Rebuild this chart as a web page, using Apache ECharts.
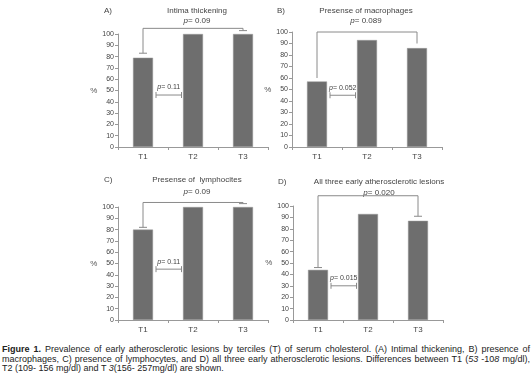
<!DOCTYPE html>
<html>
<head>
<meta charset="utf-8">
<script src="https://cdn.jsdelivr.net/npm/echarts@6/dist/echarts.min.js"></script>
<style>
html,body{margin:0;padding:0;background:#fff;}
#chart{width:532px;height:340px;}
.caption{
  position:absolute;left:2px;top:345px;width:528px;
  font-family:"Liberation Sans",Arial,sans-serif;font-size:9px;line-height:9.5px;
  color:#222;text-align:justify;
}
.caption b{font-weight:bold;}
</style>
</head>
<body>
<div id="chart"></div>
<div class="caption"><b>Figure 1.</b> Prevalence of early atherosclerotic lesions by terciles (T) of serum cholesterol. (A) Intimal thickening, B) presence of macrophages, C) presence of lymphocytes, and D) all three early atherosclerotic lesions. Differences between T1 (<i>53</i> -10<i>8</i> mg/dl), T2 (109- 156 mg/dl) and T <i>3</i>(156- 257mg/dl) are shown.</div>
<script>
// data
const categories = ['T1', 'T2', 'T3']
const panelLetters = ['A)', 'B)', 'C)', 'D)']
const panelTitles = ['Intima thickening', 'Presense of macrophages', 'Presense of  lymphocites', 'All three early atherosclerotic lesions']
const intima = [79, 100, 100]
const macrophages = [57, 93, 86]
const lymphocites = [80, 100, 100]
const allThree = [44, 93, 87]
const pOverall = ['0.09', '0.089', '0.09', '0.020']
const pT1T2 = ['0.11', '0.052', '0.11', '0.015']
// T1 vs T3 bracket: [top level, left end, right end]
const bracketT1T3 = [[105, 83, 103], [100, 60, 90], [104, 82, 103], [109, 46, 91]]
// T1 vs T2 bracket level
const bracketT1T2 = [46, 45, 45, 30]
const yTicks = [0, 100, 10]

const panels = [intima, macrophages, lymphocites, allThree]
const hasCaps = [true, false, true, true]

// layout
const grids = [
  { left: 118, top: 34, width: 150, height: 113 },
  { left: 292, top: 32, width: 150, height: 115 },
  { left: 118, top: 207, width: 150, height: 113 },
  { left: 293, top: 206, width: 150, height: 114 }
]
const titlePos = [
  { letter: [104, 7], title: [197, 7], p: [197, 17] },
  { letter: [277, 7], title: [366, 7], p: [366, 17] },
  { letter: [104, 176], title: [197, 176], p: [197, 188] },
  { letter: [278, 178], title: [379, 178], p: [379, 189] }
]

const font = '"Liberation Sans", Arial, sans-serif'
const grey = '#6e6e6e'
const lineGrey = '#8a8a8a'

let myChart = echarts.init(document.getElementById('chart'))

function seg(x1, y1, x2, y2) {
  return { type: 'line', shape: { x1: x1, y1: y1, x2: x2, y2: y2 }, style: { stroke: lineGrey, lineWidth: 1 } }
}

let xAxes = [], yAxes = [], series = [], graphics = []
grids.forEach((g, i) => {
  xAxes.push({
    gridIndex: i,
    type: 'category',
    data: categories,
    axisLine: { lineStyle: { color: '#999', width: 1 } },
    axisTick: { show: true, length: 3, lineStyle: { color: '#999' } },
    axisLabel: { color: '#444', fontSize: 8, fontFamily: font, margin: 6 }
  })
  yAxes.push({
    gridIndex: i,
    type: 'value',
    min: yTicks[0], max: yTicks[1], interval: yTicks[2],
    name: '%', nameLocation: 'middle', nameGap: 16, nameRotate: 0,
    nameTextStyle: { color: '#555', fontSize: 8, fontFamily: font },
    splitLine: { show: false },
    axisLine: { show: true, lineStyle: { color: '#999' } },
    axisTick: { show: true, length: 3, lineStyle: { color: '#999' } },
    axisLabel: { color: '#444', fontSize: 7, fontFamily: font, margin: 4 }
  })
  series.push({
    type: 'bar',
    xAxisIndex: i, yAxisIndex: i,
    data: panels[i],
    barWidth: 20,
    z: 2,
    itemStyle: { color: grey, borderColor: '#9a9a9a', borderWidth: 0.5 },
    silent: true
  })
  // T1 vs T3 bracket
  series.push({
    type: 'custom',
    xAxisIndex: i, yAxisIndex: i,
    clip: false, silent: true, z: 3,
    data: [[0, 2].concat(bracketT1T3[i])],
    renderItem: (params, api) => {
      let top = api.value(2), yl = api.value(3), yr = api.value(4)
      let a = api.coord([api.value(0), top])
      let b = api.coord([api.value(1), top])
      let la = api.coord([api.value(0), yl])
      let rb = api.coord([api.value(1), yr])
      let children = [{
        type: 'polyline',
        shape: { points: [la, a, b, rb] },
        style: { stroke: lineGrey, lineWidth: 1, fill: null }
      }]
      if (hasCaps[i]) {
        children.push(seg(la[0] - 4, la[1], la[0] + 4, la[1]))
        children.push(seg(rb[0] - 4, rb[1], rb[0] + 4, rb[1]))
      }
      return { type: 'group', children: children }
    }
  })
  // T1 vs T2 bracket, drawn in the gap between the two bars
  series.push({
    type: 'custom',
    xAxisIndex: i, yAxisIndex: i,
    clip: false, silent: true, z: 3,
    data: [[0, 1, bracketT1T2[i]]],
    renderItem: (params, api) => {
      let c1 = api.coord([api.value(0), api.value(2)])
      let c2 = api.coord([api.value(1), api.value(2)])
      let band = c2[0] - c1[0]
      let x1 = c1[0] + band * 0.26
      let x2 = c1[0] + band * 0.77
      let y = c1[1]
      return {
        type: 'group',
        children: [
          seg(x1, y, x2, y),
          seg(x1, y - 3, x1, y + 3),
          seg(x2, y - 3, x2, y + 3),
          {
            type: 'text',
            x: (x1 + x2) / 2, y: y - 4,
            style: {
              text: '{i|p}= ' + pT1T2[i],
              rich: { i: { fontStyle: 'italic', fontSize: 7, fontFamily: font, fill: '#444' } },
              fontSize: 7, fontFamily: font, fill: '#444',
              align: 'center', verticalAlign: 'bottom'
            }
          }
        ]
      }
    }
  })
  let tp = titlePos[i]
  graphics.push({ type: 'text', x: tp.letter[0], y: tp.letter[1], style: { text: panelLetters[i], fontSize: 8, fontFamily: font, fill: '#444' } })
  graphics.push({ type: 'text', x: tp.title[0], y: tp.title[1], style: { text: panelTitles[i], fontSize: 8, fontFamily: font, fill: '#444', align: 'center' } })
  graphics.push({
    type: 'text', x: tp.p[0], y: tp.p[1],
    style: {
      text: '{i|p}= ' + pOverall[i],
      rich: { i: { fontStyle: 'italic', fontSize: 8, fontFamily: font, fill: '#444' } },
      fontSize: 8, fontFamily: font, fill: '#444', align: 'center'
    }
  })
})

myChart.setOption({
  animation: false,
  grid: grids,
  xAxis: xAxes,
  yAxis: yAxes,
  series: series,
  graphic: graphics
})
</script>
</body>
</html>
